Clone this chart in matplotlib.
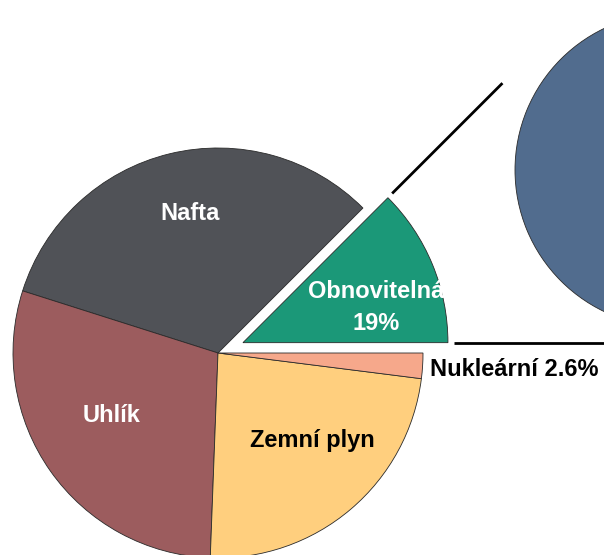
import numpy as np
import matplotlib.pyplot as plt

# energy sources, wedge sizes as drawn (percent of circle)
sources = ['Obnovitelná', 'Nafta', 'Uhlík', 'Zemní plyn', 'Nukleární']
shares = [12.5, 32.6, 29.3, 23.6, 2.0]
colors = ['#1b9878', '#505257', '#9c5c5e', '#ffcf7e', '#f6a88b']

# texts printed on the chart
label_obnov = 'Obnovitelná\n19%'
label_nukl = 'Nukleární 2.6%'

# breakdown of renewables (only one part visible in the crop)
detail = [100]
detail_colors = ['#516c8e']

plt.rcParams['font.family'] = ['Liberation Sans', 'DejaVu Sans']

fig = plt.figure(figsize=(6.04, 5.55), dpi=100)
ax = fig.add_axes([0, 0, 1, 1])

c_main = (218, 202)
r_main = 205
explode = [27, 0, 0, 0, 0]   # pie() takes the offset in data units
wedges, _ = ax.pie(shares, colors=colors, explode=explode, startangle=0,
                   counterclock=True, center=c_main, radius=r_main,
                   wedgeprops=dict(edgecolor='#2a2a2a', linewidth=0.6),
                   frame=True)

# secondary pie, mostly outside the picture
ax.pie(detail, colors=detail_colors, center=(672, 385), radius=157,
       wedgeprops=dict(edgecolor='#2a2a2a', linewidth=0.6), frame=True)

ax.set_xlim(0, 604)
ax.set_ylim(0, 555)
ax.set_aspect('equal')
ax.axis('off')

# connector lines continue the edges of the exploded wedge
w = wedges[0]
cx, cy = w.center
for ang in (w.theta1, w.theta2):
    t = np.deg2rad(ang)
    d = np.array([r_main + 6, r_main + 162])
    ax.plot(cx + d * np.cos(t), cy + d * np.sin(t), color='black', lw=2,
            solid_capstyle='butt')

fs = 17
ax.text(190, 342, 'Nafta', color='white', fontsize=fs, fontweight='bold',
        ha='center', va='center')
ax.text(112, 140, 'Uhlík', color='white', fontsize=fs, fontweight='bold',
        ha='center', va='center')
ax.text(312, 115, 'Zemní plyn', color='black', fontsize=fs, fontweight='bold',
        ha='center', va='center')
t = ax.text(376, 248, label_obnov, color='white', fontsize=fs, fontweight='bold',
            ha='center', va='center', linespacing=1.5)
t.set_clip_path(w)
ax.text(430, 185, label_nukl, color='black', fontsize=fs, fontweight='bold',
        ha='left', va='center')

fig.savefig('out.png', dpi=100)
